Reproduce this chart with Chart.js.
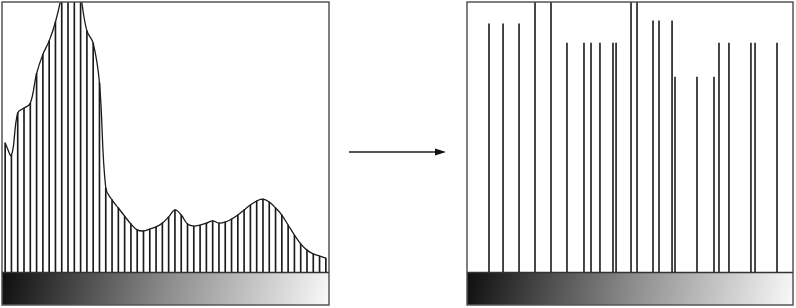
<!DOCTYPE html>
<html>
<head>
<meta charset="utf-8">
<script src="https://cdn.jsdelivr.net/npm/chart.js@4/dist/chart.umd.min.js"></script>
<style>
  html, body { margin: 0; padding: 0; background: #ffffff; }
  #wrap { position: relative; width: 796px; height: 308px; overflow: hidden; }
  #left { position: absolute; left: 0; top: 0; }
  #right { position: absolute; left: 462px; top: 0; }
  #arrow { position: absolute; left: 340px; top: 140px; }
</style>
</head>
<body>
<div id="wrap">
  <canvas id="left" width="332" height="308"></canvas>
  <svg id="arrow" width="120" height="24" viewBox="0 0 120 24">
    <line x1="9" y1="12" x2="96" y2="12" stroke="#222" stroke-width="1.4"/>
    <polygon points="95,8.5 106,12 95,15.5" fill="#111"/>
  </svg>
  <canvas id="right" width="334" height="308"></canvas>
</div>
<script>
// ---- Data ----
// Left: histogram bins (value on a 0..100 scale; >100 is clipped at the top)
const histBins = Array.from({length: 52}, (_, i) => i);
const histValues = [
  47.8, 43.3, 58.9, 60.7, 62.5, 73.5, 80.6, 85.6, 92.6, 102.6,
  115.6, 115.6, 102.6, 89.3, 84.8, 70.0, 31.1, 26.7, 23.7, 20.7,
  17.8, 15.6, 15.2, 15.9, 16.7, 18.1, 20.4, 23.0, 21.1, 17.8,
  17.0, 17.4, 18.1, 18.9, 18.1, 18.5, 19.6, 21.1, 23.0, 24.8,
  26.3, 27.0, 25.9, 23.7, 21.1, 17.4, 13.7, 10.4, 8.1, 6.7,
  5.9, 5.2
];
// Right: quantised levels (intensity 0..255) and their heights (0..100)
const levelPositions = [
  17.2, 28.2, 40.7, 53.2, 65.7, 78.2, 91.5, 97.0, 104.0, 114.2,
  116.6, 128.3, 133.0, 145.5, 150.2, 160.4, 162.7, 179.9, 193.2, 197.1,
  204.9, 222.1, 225.3, 242.5
];
const levelHeights = [
  91.9, 91.9, 91.9, 100, 100, 84.8, 84.8, 84.8, 84.8, 84.8,
  84.8, 100, 100, 93.0, 93.0, 93.0, 72.2, 72.2, 72.2, 84.8,
  84.8, 84.8, 84.8, 84.8
];

// ---- Frame + gradient plugin ----
const FRAME_BOTTOM = 305;
const framePlugin = {
  id: 'frame',
  afterDraw(chart) {
    const ctx = chart.ctx;
    const a = chart.chartArea;
    ctx.save();
    const g = ctx.createLinearGradient(a.left, a.bottom, a.right, FRAME_BOTTOM + 40);
    g.addColorStop(0, '#0e0e0e');
    g.addColorStop(0.5, '#8e8e8e');
    g.addColorStop(1, '#ffffff');
    ctx.fillStyle = g;
    ctx.fillRect(a.left, a.bottom, a.right - a.left, FRAME_BOTTOM - a.bottom);
    ctx.strokeStyle = '#555';
    ctx.lineWidth = 1.5;
    ctx.strokeRect(a.left, a.top, a.right - a.left, FRAME_BOTTOM - a.top);
    ctx.beginPath();
    ctx.moveTo(a.left, a.bottom + 0.5);
    ctx.lineTo(a.right, a.bottom + 0.5);
    ctx.lineWidth = 1.3;
    ctx.strokeStyle = '#333';
    ctx.stroke();
    ctx.restore();
  }
};

Chart.defaults.animation = false;

new Chart(document.getElementById('left'), {
  type: 'bar',
  data: {
    labels: histBins,
    datasets: [
      {
        type: 'line',
        data: histValues,
        borderColor: '#1a1a1a',
        borderWidth: 1.3,
        pointRadius: 0,
        fill: false,
        tension: 0.4,
        order: 0
      },
      {
        type: 'bar',
        data: histValues,
        backgroundColor: '#1a1a1a',
        barThickness: 1,
        order: 1
      }
    ]
  },
  options: {
    responsive: false,
    animation: false,
    layout: { padding: { left: 2, right: 3, top: 2, bottom: 36 } },
    plugins: { legend: { display: false }, tooltip: { enabled: false } },
    scales: {
      x: { display: false, offset: true },
      y: { display: false, min: 0, max: 100 }
    }
  },
  plugins: [framePlugin]
});

new Chart(document.getElementById('right'), {
  type: 'bar',
  data: {
    datasets: [{
      data: levelPositions.map((x, i) => ({ x: x, y: levelHeights[i] })),
      backgroundColor: '#222',
      barThickness: 1
    }]
  },
  options: {
    responsive: false,
    animation: false,
    layout: { padding: { left: 5, right: 3, top: 2, bottom: 36 } },
    plugins: { legend: { display: false }, tooltip: { enabled: false } },
    scales: {
      x: { type: 'linear', display: false, min: 0, max: 255, offset: false },
      y: { display: false, min: 0, max: 100 }
    }
  },
  plugins: [framePlugin]
});
</script>
</body>
</html>
